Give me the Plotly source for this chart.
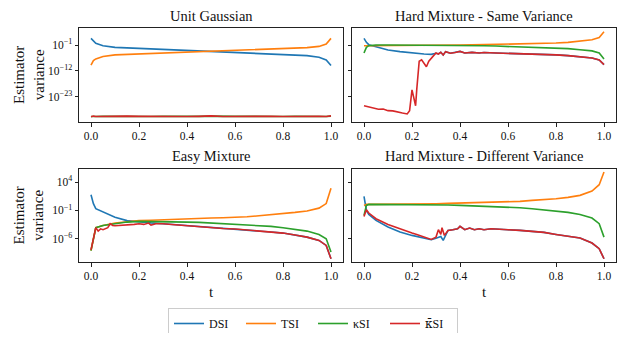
import plotly.graph_objects as go
from plotly.subplots import make_subplots

# values are log10(estimator variance)
t_grid = [0, 0.01, 0.02, 0.05, 0.1, 0.15, 0.2, 0.25, 0.3, 0.35, 0.4, 0.45,
          0.5, 0.55, 0.6, 0.65, 0.7, 0.75, 0.8, 0.85, 0.9, 0.95, 0.98, 1.0]

# Unit Gaussian
ug_dsi = [1.8, 0.55, -0.3, -1.3, -2.0, -2.2, -2.4, -2.7, -3.0, -3.2, -3.4, -3.6,
          -3.8, -4.0, -4.2, -4.35, -4.5, -4.65, -4.8, -5.1, -5.5, -6.2, -7.3, -9.7]
ug_tsi = [-9.5, -7.6, -6.9, -5.9, -5.2, -5.0, -4.8, -4.6, -4.4, -4.25, -4.1, -3.95,
          -3.8, -3.6, -3.4, -3.25, -3.1, -2.9, -2.7, -2.4, -2.1, -1.6, -0.6, 1.8]
ug_ksi = [-31.3, -31.2, -31.3, -31.2, -31.3, -31.2, -31.2, -31.3, -31.2, -31.3, -31.3, -31.2,
          -31.1, -31.3, -31.2, -31.2, -31.3, -31.2, -31.3, -31.2, -31.3, -31.2, -31.3, -31.1]
ug_kbsi = [-31.4, -31.1, -31.3, -31.2, -31.3, -31.1, -31.2, -31.3, -31.2, -31.4, -31.3, -31.2,
           -31.0, -31.3, -31.2, -31.1, -31.3, -31.2, -31.3, -31.2, -31.3, -31.2, -31.3, -31.0]

# Hard Mixture - Same Variance
hs_t_dsi = [0, 0.01, 0.02, 0.05, 0.1, 0.15, 0.2, 0.25, 0.28, 0.3, 0.31, 0.32, 0.33,
            0.34, 0.36, 0.38, 0.4, 0.42, 0.45, 0.48, 0.5, 0.55, 0.6, 0.65, 0.7, 0.75,
            0.8, 0.85, 0.9, 0.95, 0.98, 1.0]
hs_dsi = [1.82, 0.13, -0.86, -1.7, -3.1, -3.8, -4.4, -4.8, -4.95, -4.5, -4.8, -4.1,
          -5.2, -3.8, -4.5, -4.2, -3.7, -4.4, -4.1, -4.4, -4.2, -4.4, -4.5, -4.7, -4.8,
          -4.95, -5.2, -5.5, -5.9, -6.5, -7.3, -9.3]
hs_tsi = [-1.3, -1.3, -1.3, -1.3, -1.3, -1.2, -1.15, -1.15, -1.15, -1.1, -1.0, -0.95,
          -0.86, -0.8, -0.7, -0.6, -0.44, -0.3, -0.15, 0.13, 0.55, 1.25, 2.2, 4.6]
hs_ksi = [-4.4, -2.0, -1.3, -1.0, -1.0, -1.0, -1.0, -1.0, -1.0, -1.05, -1.15, -1.2,
          -1.3, -1.45, -1.6, -1.7, -1.85, -2.05, -2.3, -2.55, -3.0, -3.5, -4.4, -6.9]
hs_t_kb = [0, 0.02, 0.04, 0.06, 0.08, 0.1, 0.12, 0.14, 0.16, 0.18, 0.19, 0.2, 0.21,
           0.215, 0.22, 0.23, 0.24, 0.25, 0.26, 0.27, 0.28, 0.29, 0.3, 0.31, 0.32,
           0.33, 0.34, 0.36, 0.38, 0.4, 0.42, 0.45, 0.48, 0.5, 0.55, 0.6, 0.65, 0.7,
           0.75, 0.8, 0.85, 0.9, 0.95, 0.98, 1.0]
hs_kbsi = [-26.7, -27.1, -27.6, -28.2, -28.1, -28.8, -28.9, -29.2, -29.8, -30.2, -28.8,
           -20.0, -24.5, -26.7, -19.6, -7.9, -7.3, -8.8, -10.2, -7.9, -6.9, -5.5, -4.4,
           -4.8, -4.1, -5.2, -3.8, -4.5, -4.2, -3.7, -4.4, -4.1, -4.4, -4.2, -4.4, -4.5,
           -4.7, -4.8, -4.95, -5.2, -5.5, -5.9, -6.5, -7.3, -9.3]

# Easy Mixture
em_dsi = [1.76, 0.18, -0.7, -1.3, -2.2, -2.8, -3.05, -3.2, -3.35, -3.5, -3.7, -3.88,
          -4.06, -4.18, -4.29, -4.47, -4.65, -4.82, -5.0, -5.35, -5.71, -6.29, -7.18, -9.53]
em_tsi = [-8.1, -5.7, -4.05, -3.65, -3.25, -3.0, -2.8, -2.75, -2.65, -2.6, -2.5, -2.42,
          -2.35, -2.3, -2.25, -2.12, -1.95, -1.78, -1.6, -1.35, -1.1, -0.6, 0.2, 2.9]
em_ksi = [-8.1, -6.0, -4.05, -3.65, -3.35, -3.06, -2.94, -2.94, -2.94, -3.0, -3.06, -3.12,
          -3.24, -3.29, -3.35, -3.47, -3.65, -3.82, -4.06, -4.29, -4.65, -5.24, -6.0, -8.35]
em_t_kb = [0, 0.01, 0.02, 0.03, 0.04, 0.05, 0.06, 0.07, 0.08, 0.09, 0.1, 0.12, 0.14,
           0.16, 0.18, 0.2, 0.22, 0.24, 0.25, 0.27, 0.3, 0.35, 0.4, 0.45, 0.5, 0.55,
           0.6, 0.65, 0.7, 0.75, 0.8, 0.85, 0.9, 0.95, 0.98, 1.0]
em_kbsi = [-7.95, -5.7, -4.05, -4.65, -4.25, -4.4, -4.2, -4.05, -3.35, -3.65, -3.71,
           -3.65, -3.71, -3.53, -3.47, -3.35, -3.47, -3.24, -3.59, -3.35, -3.35, -3.53,
           -3.71, -3.88, -4.06, -4.18, -4.29, -4.47, -4.65, -4.82, -5.0, -5.35, -5.71,
           -6.29, -7.18, -9.53]

# Hard Mixture - Different Variance
hd_t_dsi = [0, 0.01, 0.02, 0.05, 0.1, 0.15, 0.2, 0.25, 0.28, 0.3, 0.32, 0.33, 0.34,
            0.35, 0.37, 0.39, 0.4, 0.42, 0.44, 0.46, 0.48, 0.5, 0.53, 0.56, 0.6, 0.65,
            0.7, 0.75, 0.8, 0.85, 0.9, 0.95, 0.98, 1.0]
hd_dsi = [1.47, -1.0, -1.71, -2.76, -3.94, -4.82, -5.41, -5.82, -6.18, -5.9, -5.6, -6.3,
          -5.5, -4.53, -4.41, -4.24, -3.82, -4.41, -4.12, -4.41, -4.24, -4.41, -4.24,
          -4.35, -4.41, -4.53, -4.71, -4.88, -5.24, -5.53, -5.88, -6.76, -7.76, -9.53]
hd_tsi = [-0.12, 0.06, 0.06, 0.06, 0.06, 0.09, 0.12, 0.15, 0.18, 0.23, 0.29, 0.32,
          0.35, 0.41, 0.47, 0.59, 0.76, 0.88, 1.06, 1.29, 1.65, 2.41, 3.53, 5.76]
hd_ksi = [-1.88, -0.12, 0.06, 0.06, 0.06, 0.06, 0.06, 0.03, 0.0, -0.06, -0.12, -0.18,
          -0.24, -0.3, -0.41, -0.53, -0.71, -0.88, -1.12, -1.35, -1.71, -2.35, -3.35, -5.71]
hd_t_kb = [0, 0.01, 0.02, 0.05, 0.1, 0.15, 0.2, 0.22, 0.25, 0.28, 0.3, 0.31, 0.32,
           0.325, 0.335, 0.35, 0.37, 0.39, 0.4, 0.42, 0.44, 0.46, 0.48, 0.5, 0.53,
           0.56, 0.6, 0.65, 0.7, 0.75, 0.8, 0.85, 0.9, 0.95, 0.98, 1.0]
hd_kbsi = [-2.06, -0.88, -1.47, -2.47, -3.47, -4.29, -5.0, -5.24, -5.71, -6.12, -5.71,
           -4.41, -5.24, -4.06, -5.41, -4.53, -4.41, -4.24, -3.82, -4.41, -4.12, -4.41,
           -4.24, -4.41, -4.24, -4.35, -4.41, -4.53, -4.71, -4.88, -5.24, -5.53, -5.88,
           -6.76, -7.76, -9.53]

names = ["DSI", "TSI", "κSI", "<span style=\"font-family:'DejaVu Serif'\">κ̄</span>SI"]
colors = ["#1f77b4", "#ff7f0e", "#2ca02c", "#d62728"]
titles = ["Unit Gaussian", "Hard Mixture - Same Variance",
          "Easy Mixture", "Hard Mixture - Different Variance"]

panels = [
    (1, 1, [(t_grid, ug_dsi), (t_grid, ug_tsi), (t_grid, ug_ksi), (t_grid, ug_kbsi)]),
    (1, 2, [(hs_t_dsi, hs_dsi), (t_grid, hs_tsi), (t_grid, hs_ksi), (hs_t_kb, hs_kbsi)]),
    (2, 1, [(t_grid, em_dsi), (t_grid, em_tsi), (t_grid, em_ksi), (em_t_kb, em_kbsi)]),
    (2, 2, [(hd_t_dsi, hd_dsi), (t_grid, hd_tsi), (t_grid, hd_ksi), (hd_t_kb, hd_kbsi)]),
]

FONT = '"Liberation Serif", serif'
fig = make_subplots(rows=2, cols=2)

for k, (r, c, series) in enumerate(panels):
    for i, (tt, lv) in enumerate(series):
        fig.add_trace(go.Scatter(
            x=tt, y=[10 ** v for v in lv], mode="lines",
            line=dict(color=colors[i], width=1.6),
            name=names[i], showlegend=(k == 0)), row=r, col=c)

# page body has an 8px margin, so the figure is a bit smaller and offset
FW, FH, OFF = 610, 325, 8

def px_x(p):
    return (p - OFF) / FW

def px_y(p):
    return 1 - (p - OFF) / FH

xdom = [[px_x(79), px_x(343)], [px_x(352), px_x(616)]]
ydom = [[px_y(122), px_y(28)], [px_y(262), px_y(169)]]
title_y = [16, 156]

def sup(e):
    return "10<sup>%s</sup>" % str(e).replace("-", "−")

top_ticks = [-23, -12, -1]
bot_ticks = [-6, -1, 4]

for k, (r, c, _) in enumerate(panels):
    idx = "" if k == 0 else str(k + 1)
    xa = dict(domain=xdom[c - 1], range=[-0.05, 1.05], showline=True, mirror=True,
              linecolor="#222", linewidth=1, ticks="outside", ticklen=3.5,
              tickcolor="#222", showgrid=False, zeroline=False,
              tickvals=[0, 0.2, 0.4, 0.6, 0.8, 1.0],
              ticktext=["0.0", "0.2", "0.4", "0.6", "0.8", "1.0"])
    if r == 2:
        xa["title"] = dict(text="t", standoff=5, font=dict(size=15))
    ticks = top_ticks if r == 1 else bot_ticks
    rng = [-33.6, 6.2] if r == 1 else [-10.1, 6.3]
    ya = dict(domain=ydom[r - 1], type="log", range=rng, showline=True, mirror=True,
              linecolor="#222", linewidth=1, ticks="outside", ticklen=3.5,
              tickcolor="#222", showgrid=False, zeroline=False,
              tickvals=[10.0 ** e for e in ticks], ticktext=[sup(e) for e in ticks],
              showticklabels=(c == 1))
    fig.layout["xaxis" + idx].update(xa)
    fig.layout["yaxis" + idx].update(ya)
    fig.add_annotation(text=titles[k], xref="paper", yref="paper",
                       x=sum(xdom[c - 1]) / 2, y=px_y(title_y[r - 1]),
                       xanchor="center", yanchor="middle", showarrow=False,
                       font=dict(size=14.5, color="#111"))

for r in (1, 2):
    fig.add_annotation(text="Estimator<br>variance", xref="paper", yref="paper",
                       x=px_x(29), y=sum(ydom[r - 1]) / 2, textangle=-90,
                       xanchor="center", yanchor="middle", showarrow=False,
                       font=dict(size=15, color="#111"))

fig.update_layout(
    width=FW, height=FH, margin=dict(l=0, r=0, t=0, b=0, autoexpand=False),
    plot_bgcolor="white", paper_bgcolor="white",
    font=dict(family=FONT, size=11.5, color="#111"),
    legend=dict(orientation="h", x=px_x(313), xanchor="center", y=px_y(308),
                yanchor="top", bordercolor="#cccccc", borderwidth=1,
                bgcolor="white", font=dict(size=12), entrywidth=27,
                tracegroupgap=0, itemwidth=30),
)

fig.write_html("out.html")
